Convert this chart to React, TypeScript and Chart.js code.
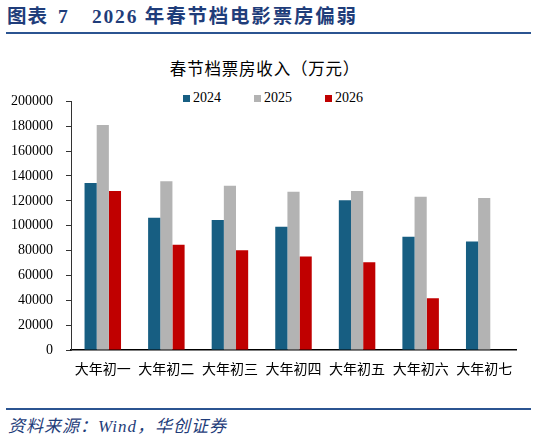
import { useEffect, useRef } from 'react';
import { Chart, registerables } from 'chart.js';

Chart.register(...registerables);

// Data
const days = ['大年初一', '大年初二', '大年初三', '大年初四', '大年初五', '大年初六', '大年初七'];
const seriesNames = ['2024', '2025', '2026'];
const seriesColors = ['#175E82', '#B3B3B3', '#C00000'];
const box2024 = [134400, 106400, 104600, 99100, 120400, 91100, 87200];
const box2025 = [181100, 135700, 132100, 127400, 127900, 123300, 122200];
const box2026 = [127900, 84600, 80200, 75300, 70600, 41600, null];
const yMax = 200000;
const yStep = 20000;

const serif = "'Liberation Serif', 'Noto Sans CJK SC', serif";
const navy = '#1F3D7A';

const BoxOfficeChart = () => {
  const canvasRef = useRef<HTMLCanvasElement | null>(null);
  const chartRef = useRef<Chart | null>(null);

  useEffect(() => {
    if (!canvasRef.current) return;
    const ctx = canvasRef.current.getContext('2d');
    if (!ctx) return;

    if (chartRef.current) chartRef.current.destroy();

    const values = [box2024, box2025, box2026];

    chartRef.current = new Chart(ctx, {
      type: 'bar',
      data: {
        labels: days,
        datasets: seriesNames.map((name, i) => ({
          label: name,
          data: values[i],
          backgroundColor: seriesColors[i],
          borderWidth: 0,
          barPercentage: 1,
          categoryPercentage: 0.574,
        })),
      },
      options: {
        responsive: true,
        maintainAspectRatio: false,
        animation: false,
        layout: { padding: { top: 13, bottom: 0, left: 0, right: 19 } },
        plugins: {
          legend: { display: false },
          title: { display: false },
          tooltip: { enabled: false },
        },
        scales: {
          x: {
            grid: { display: false, drawTicks: false },
            border: { color: '#000', width: 1.5 },
            ticks: {
              color: '#000',
              padding: 12,
              font: { family: serif, size: 14 },
              maxRotation: 0,
              autoSkip: false,
            },
            afterFit: (scale: any) => {
              scale.height = 30;
            },
          },
          y: {
            min: 0,
            max: yMax,
            grid: {
              drawOnChartArea: false,
              drawTicks: true,
              tickLength: 5,
              color: '#333',
            },
            border: { color: '#333', width: 1 },
            ticks: {
              stepSize: yStep,
              color: '#000',
              padding: 13,
              font: { family: serif, size: 14 },
              callback: (v: any) => String(v),
            },
            afterFit: (scale: any) => {
              scale.width = 71;
            },
          },
        },
      },
    });

    return () => {
      if (chartRef.current) {
        chartRef.current.destroy();
        chartRef.current = null;
      }
    };
  }, []);

  return (
    <div style={{ position: 'absolute', left: 0, top: 80, width: 535, height: 300 }}>
      <canvas ref={canvasRef}></canvas>
    </div>
  );
};

export default function App() {
  const head = { position: 'absolute' as const, top: 5, fontSize: 19.5, fontWeight: 'bold' as const, color: navy, lineHeight: '24px', whiteSpace: 'nowrap' as const };
  return (
    <div
      style={{
        position: 'absolute',
        left: 0,
        top: 0,
        width: 535,
        height: 442,
        background: '#fff',
        fontFamily: serif,
      }}
    >
      {/* header */}
      <span style={{ ...head, left: 7, letterSpacing: 1 }}>图表</span>
      <span style={{ ...head, left: 58 }}>7</span>
      <span style={{ ...head, left: 92, letterSpacing: 1.8 }}>2026 年春节档电影票房偏弱</span>
      <div style={{ position: 'absolute', left: 6, top: 32, width: 525, height: 2, background: '#2B5491' }} />

      {/* chart title */}
      <div style={{ position: 'absolute', left: 0, top: 59, width: 530, textAlign: 'center', fontSize: 16.5, letterSpacing: 0.8, color: '#000', lineHeight: '22px' }}>
        春节档票房收入（万元）
      </div>

      {/* legend */}
      <div style={{ position: 'absolute', left: 183, top: 89, display: 'flex', gap: 33, alignItems: 'center' }}>
        {seriesNames.map((name, i) => (
          <div key={name} style={{ display: 'flex', alignItems: 'center', gap: 3 }}>
            <div style={{ width: 7, height: 7, background: seriesColors[i] }} />
            <span style={{ fontSize: 14, lineHeight: '18px', color: '#000' }}>{name}</span>
          </div>
        ))}
      </div>

      <BoxOfficeChart />

      {/* footer */}
      <div style={{ position: 'absolute', left: 6, top: 408, width: 525, height: 2, background: '#2B5491' }} />
      <div style={{ position: 'absolute', left: 8, top: 416, fontSize: 17, fontStyle: 'italic', letterSpacing: 1, color: navy, lineHeight: '22px', whiteSpace: 'nowrap' }}>
        资料来源：Wind，华创证券
      </div>
    </div>
  );
}
